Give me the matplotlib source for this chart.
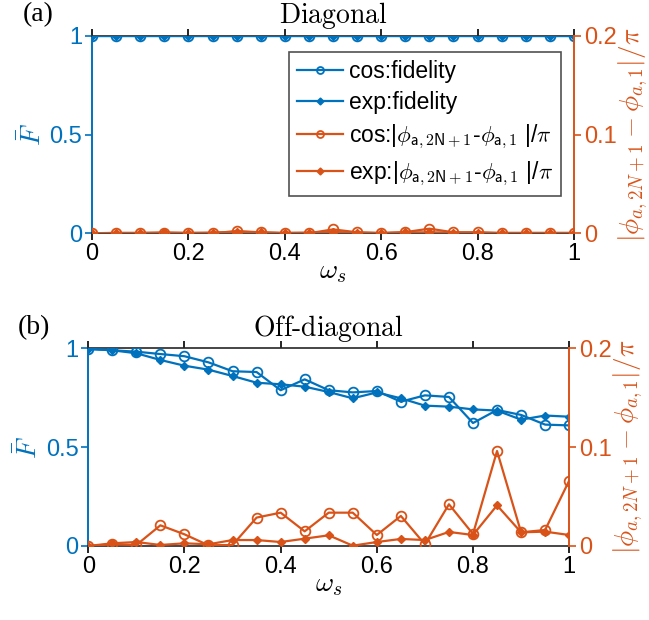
import numpy as np
import matplotlib.pyplot as plt
from matplotlib.lines import Line2D

plt.rcParams['font.family'] = ['Liberation Sans', 'DejaVu Sans']
plt.rcParams['mathtext.fontset'] = 'cm'

BLUE = (0.0, 0.447, 0.741)
ORANGE = (0.85, 0.325, 0.098)
DARK = '#262626'

omega = np.round(np.arange(21) * 0.05, 2)

# diagonal disorder
diag_cos_fid = [1.0] * 21
diag_exp_fid = [1.0] * 21
diag_cos_phase = [0, 0, 0, 0, 0, 0, 0.0023, 0.001, 0, 0, 0.004, 0.001,
                  0, 0.0012, 0.0047, 0.001, 0.001, 0, 0, 0, 0]
diag_exp_phase = [0, 0.0005, 0.0005, 0.001, 0.0005, 0.0008, 0.0015, 0.001,
                  0.0005, 0.0008, 0.0013, 0.0008, 0.0005, 0.001, 0.001,
                  0.0008, 0.0008, 0.0005, 0.0005, 0.0005, 0.0005]

# off-diagonal disorder
off_cos_fid = [0.997, 0.99, 0.983, 0.971, 0.96, 0.929, 0.884, 0.88, 0.788,
               0.843, 0.788, 0.777, 0.784, 0.73, 0.762, 0.754, 0.622, 0.688,
               0.663, 0.614, 0.61]
off_exp_fid = [0.997, 0.99, 0.975, 0.941, 0.912, 0.892, 0.86, 0.826, 0.818,
               0.806, 0.779, 0.747, 0.777, 0.747, 0.71, 0.705, 0.691, 0.685,
               0.639, 0.66, 0.654]
off_cos_phase = [0, 0.0017, 0.001, 0.0209, 0.0118, 0.0007, 0.001, 0.0287,
                 0.0337, 0.0148, 0.0337, 0.0337, 0.0111, 0.0304, 0.0017,
                 0.0422, 0.0121, 0.0961, 0.0138, 0.0162, 0.0661]
off_exp_phase = [0, 0.0027, 0.004, 0.001, 0.0027, 0.0017, 0.006, 0.006,
                 0.004, 0.0074, 0.0108, 0.0003, 0.004, 0.0071, 0.006, 0.0142,
                 0.0111, 0.0411, 0.0138, 0.0145, 0.0111]

labels = ['cos:fidelity', 'exp:fidelity',
          r'cos:|$\phi_{\mathsf{a,2N+1}}$-$\phi_{\mathsf{a,1}}$ |/$\pi$',
          r'exp:|$\phi_{\mathsf{a,2N+1}}$-$\phi_{\mathsf{a,1}}$ |/$\pi$']

FS = 17
open_kw = dict(marker='o', markersize=7, markerfacecolor='none',
               markeredgewidth=1.3, lw=1.6)
fill_kw = dict(marker='D', markersize=4, lw=1.6)


def panel(rect, cos_fid, exp_fid, cos_ph, exp_ph, title, tag):
    ax = fig.add_axes(rect)
    ax2 = ax.twinx()
    ax.plot(omega, cos_fid, color=BLUE, zorder=3, **open_kw)
    ax.plot(omega, exp_fid, color=BLUE, zorder=3, **fill_kw)
    ax2.plot(omega, cos_ph, color=ORANGE, **open_kw)
    ax2.plot(omega, exp_ph, color=ORANGE, **fill_kw)

    ax.set_xlim(0, 1)
    ax.set_ylim(0, 1)
    ax2.set_ylim(0, 0.2)
    ax.set_xticks([0, 0.2, 0.4, 0.6, 0.8, 1])
    ax.set_xticklabels(['0', '0.2', '0.4', '0.6', '0.8', '1'])
    ax.set_yticks([0, 0.5, 1])
    ax.set_yticklabels(['0', '0.5', '1'])
    ax2.set_yticks([0, 0.1, 0.2])
    ax2.set_yticklabels(['0', '0.1', '0.2'])

    ax.tick_params(axis='x', direction='out', top=True, length=5, width=1.2,
                   labelsize=FS, colors='black', pad=2)
    ax.tick_params(axis='y', direction='out', length=5, width=1.2,
                   labelsize=FS, colors=BLUE, pad=2)
    ax2.tick_params(axis='y', direction='out', length=5, width=1.2,
                    labelsize=FS, colors=ORANGE, pad=2)

    for s in ('top', 'bottom'):
        ax.spines[s].set_color(DARK)
        ax.spines[s].set_linewidth(1.2)
        ax2.spines[s].set_visible(False)
    ax.spines['left'].set_color(BLUE)
    ax.spines['left'].set_linewidth(1.4)
    ax.spines['right'].set_visible(False)
    ax2.spines['left'].set_visible(False)
    ax2.spines['right'].set_color(ORANGE)
    ax2.spines['right'].set_linewidth(1.4)

    ax.set_xlabel(r'$\omega_s$', fontsize=20, labelpad=-4)
    ax.set_ylabel(r'$\bar{F}$', fontsize=20, color=BLUE, labelpad=2)
    ax2.set_ylabel(r'$|\phi_{a,2N+1}-\phi_{a,1}|/\pi$', fontsize=19.5,
                   color=ORANGE, labelpad=0)
    ax.set_title(r'$\mathrm{%s}$' % title, fontsize=20, pad=9)
    ax.text(-0.112, 1.105, tag, transform=ax.transAxes, fontsize=20,
            family='Liberation Serif', ha='center', va='center')
    return ax, ax2


fig = plt.figure(figsize=(6.49, 6.20), dpi=100)

ax_a, _ = panel([0.1418, 0.6237, 0.7426, 0.3187], diag_cos_fid, diag_exp_fid,
                diag_cos_phase, diag_exp_phase, 'Diagonal', '(a)')
ax_b, _ = panel([0.136, 0.1194, 0.741, 0.3188], off_cos_fid, off_exp_fid,
                off_cos_phase, off_exp_phase, 'Off\\text{-}diagonal', '(b)')

handles = [Line2D([], [], color=BLUE, **dict(open_kw, markersize=5)),
           Line2D([], [], color=BLUE, **dict(fill_kw, markersize=3.5)),
           Line2D([], [], color=ORANGE, **dict(open_kw, markersize=5)),
           Line2D([], [], color=ORANGE, **dict(fill_kw, markersize=3.5))]
leg = fig.legend(handles, labels, loc='upper right',
                 bbox_to_anchor=(561 / 649, 1 - 52 / 620), fontsize=16.5,
                 frameon=True, fancybox=False, edgecolor=DARK,
                 handlelength=2.0, handletextpad=0.25, borderpad=0.35,
                 labelspacing=0.36, borderaxespad=0)
leg.get_frame().set_linewidth(1.2)

fig.savefig('out.png', dpi=100)
